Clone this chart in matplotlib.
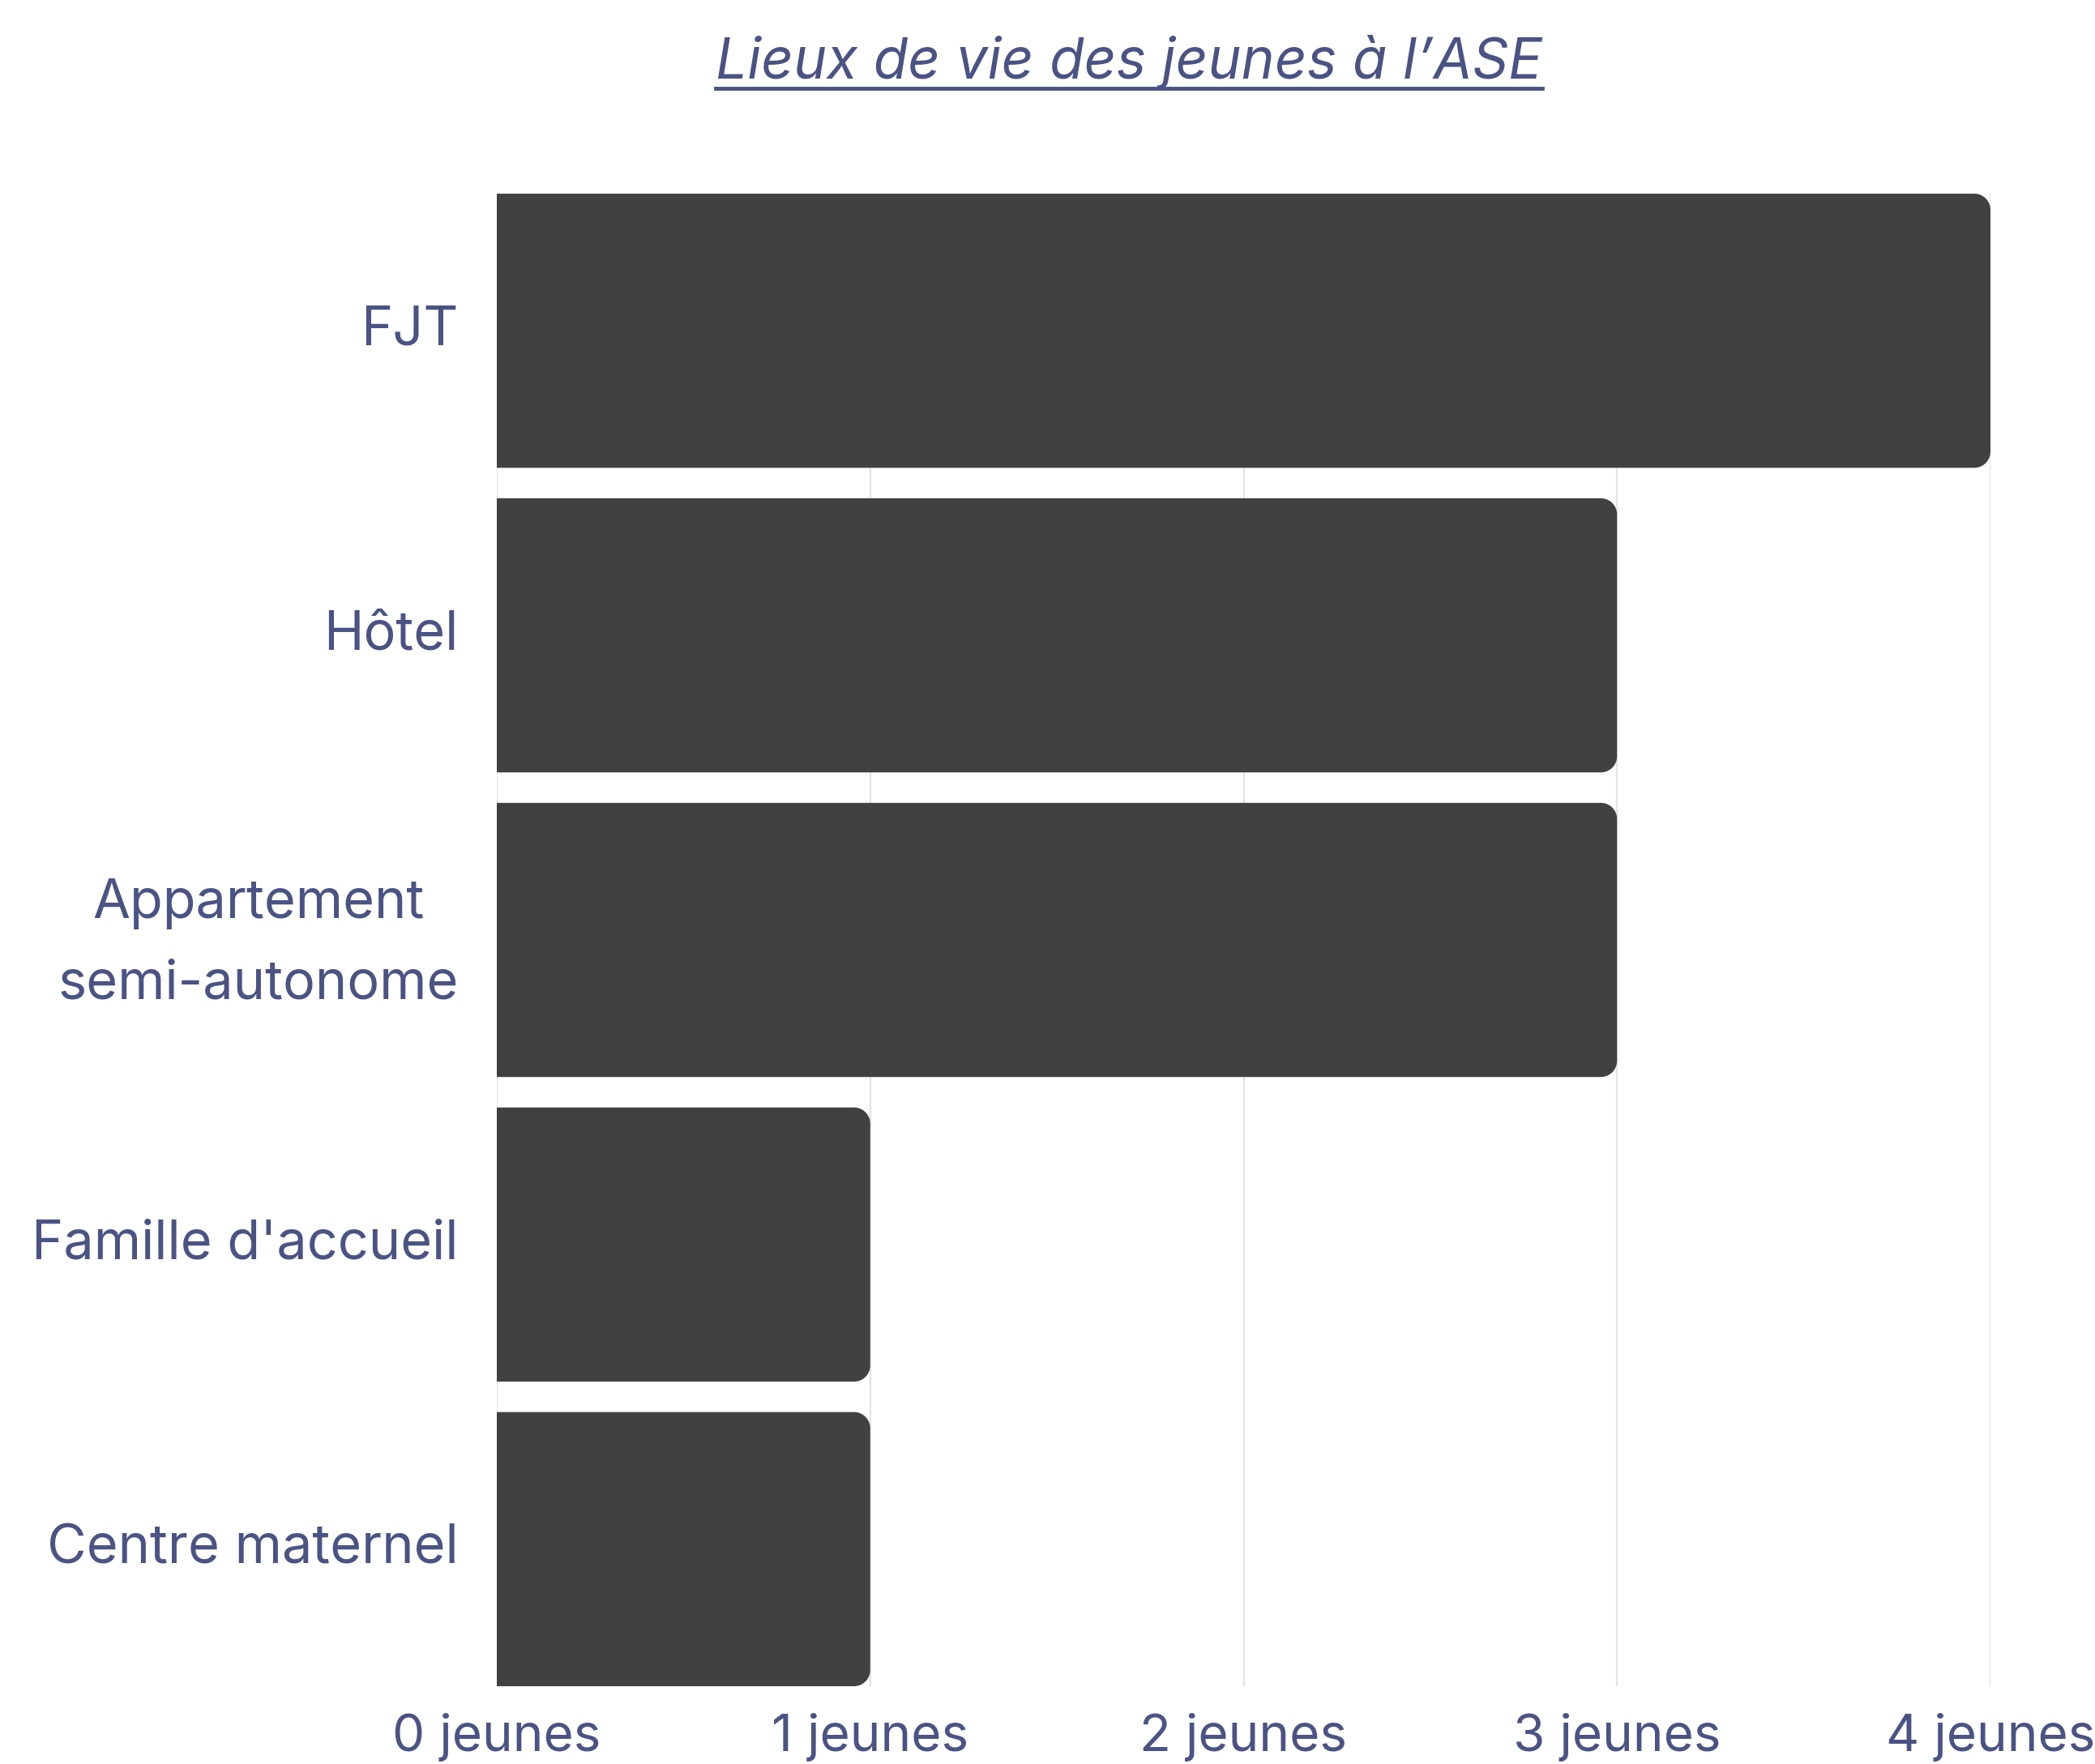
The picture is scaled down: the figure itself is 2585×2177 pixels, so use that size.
import matplotlib
matplotlib.use("Agg")
import matplotlib.pyplot as plt
import numpy as np
from matplotlib.path import Path
from matplotlib.patches import PathPatch
from matplotlib.lines import Line2D
from matplotlib.transforms import ScaledTranslation

# Data
categories = ["FJT", "Hôtel", "Appartement\nsemi-autonome", "Famille d'accueil", "Centre maternel"]
counts = [4, 3, 3, 1, 1]
tick_values = [0, 1, 2, 3, 4]
tick_labels = ["0 jeunes", "1 jeunes", "2 jeunes", "3 jeunes", "4 jeunes"]
title = "Lieux de vie des jeunes à l’ASE"

TEXT = "#4b5384"
BAR = "#414141"
GRID = "#e3e3e8"
FONT = "Inter"

W, H, DPI = 2585, 2177, 100
fig = plt.figure(figsize=(W / DPI, H / DPI), dpi=DPI)
fig.patch.set_facecolor("white")

left, right = 613 / W, 2456 / W
bottom, top = 1 - 2081 / H, 1 - 239 / H
ax = fig.add_axes([left, bottom, right - left, top - bottom])

bar_h = 0.9
n = len(categories)
ax.set_xlim(0, 4)
ax.set_ylim(n - 1 + bar_h / 2, -bar_h / 2)

for s in ax.spines.values():
    s.set_visible(False)

ax.set_xticks(tick_values)
ax.set_xticklabels(tick_labels)
ax.set_yticks(range(n))
ax.set_yticklabels(categories, multialignment="center")
ax.tick_params(axis="both", length=0, labelcolor=TEXT)
ax.tick_params(axis="x", labelsize=46, pad=24)
ax.tick_params(axis="y", labelsize=48, pad=34)
for lab in ax.get_xticklabels() + ax.get_yticklabels():
    lab.set_fontfamily(FONT)
for lab in ax.get_yticklabels():
    lab.set_linespacing(1.75)
    shift = 0.2 if "\n" in lab.get_text() else 0.07
    lab.set_transform(lab.get_transform() + ScaledTranslation(0, shift, fig.dpi_scale_trans))

ax.set_axisbelow(True)
for v in tick_values:
    ax.axvline(v, color=GRID, lw=1.6, zorder=0)

# Bars with rounded right-hand corners; the corner radius is fixed in pixels
fig.canvas.draw()
bbox = ax.get_window_extent()
px_per_x = bbox.width / 4.0
px_per_y = bbox.height / (n - 1 + bar_h)
r_px = 20
rx, ry = r_px / px_per_x, r_px / px_per_y

def rounded_bar(y, w, h):
    y0, y1 = y - h / 2, y + h / 2
    t = np.linspace(0, np.pi / 2, 20)
    verts = [(0, y0), (w - rx, y0)]
    verts += [(w - rx + rx * np.sin(a), y0 + ry - ry * np.cos(a)) for a in t]
    verts += [(w, y1 - ry)]
    verts += [(w - rx + rx * np.cos(a), y1 - ry + ry * np.sin(a)) for a in t]
    verts += [(0, y1), (0, y0)]
    codes = [Path.MOVETO] + [Path.LINETO] * (len(verts) - 2) + [Path.CLOSEPOLY]
    return PathPatch(Path(verts, codes), facecolor=BAR, edgecolor="none", zorder=2)

for i, c in enumerate(counts):
    ax.add_patch(rounded_bar(i, c, bar_h))

# Title with underline
t = fig.text(0.539, 1 - 77 / H, title, ha="center", va="center",
             fontsize=50, style="italic", color=TEXT, fontfamily=FONT)
fig.canvas.draw()
tb = t.get_window_extent()
uy = (tb.y0 + 2) / H
fig.add_artist(Line2D([tb.x0 / W, tb.x1 / W], [uy, uy], color=TEXT, lw=3.5,
                      transform=fig.transFigure))

fig.savefig("out.png", dpi=DPI, facecolor="white")
